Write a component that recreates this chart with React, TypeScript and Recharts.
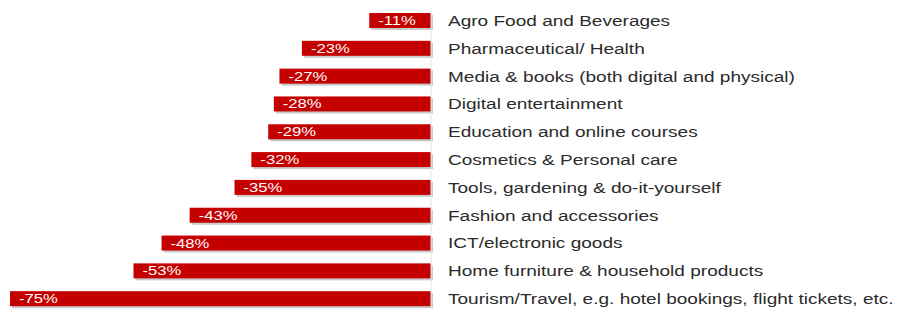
import React from 'react';
import { BarChart, Bar, XAxis, YAxis, LabelList } from 'recharts';

const categories = [
  'Agro Food and Beverages',
  'Pharmaceutical/ Health',
  'Media & books (both digital and physical)',
  'Digital entertainment',
  'Education and online courses',
  'Cosmetics & Personal care',
  'Tools, gardening & do-it-yourself',
  'Fashion and accessories',
  'ICT/electronic goods',
  'Home furniture & household products',
  'Tourism/Travel, e.g. hotel bookings, flight tickets, etc.',
];

const changes = [-11, -23, -27, -28, -29, -32, -35, -43, -48, -53, -75];

const data = categories.map((name, i) => ({ name, value: changes[i] }));

const BAR_RED = '#c50000';

// bar with a small grey drop shadow, like the original slide
const ShadowBar = (props: any) => {
  const { x, y, width, height } = props;
  const left = Math.min(x, x + width);
  const w = Math.abs(width);
  return (
    <g>
      <rect x={left + 2} y={y + 2} width={w} height={height} fill="#8a8a8a" opacity={0.45} />
      <rect x={left} y={y} width={w} height={height} fill={BAR_RED} />
    </g>
  );
};

const ValueLabel = (props: any) => {
  const { x, y, width, height, value } = props;
  const left = Math.min(x, x + width);
  const tx = left + 9;
  const ty = y + height / 2 + 4.5;
  return (
    <text
      transform={`translate(${tx},${ty}) scale(1.28,1)`}
      fill="#fff"
      fontSize={13}
      fontFamily="Liberation Sans, Arial, sans-serif"
    >
      {`${value}%`}
    </text>
  );
};

const CategoryTick = (props: any) => {
  const { x, y, payload } = props;
  return (
    <text
      transform={`translate(${x + 11},${y + 5}) scale(1.27,1)`}
      fill="#2b2b2b"
      fontSize={15}
      fontFamily="Liberation Sans, Arial, sans-serif"
    >
      {payload.value}
    </text>
  );
};

export default function App() {
  return (
    <div style={{ position: 'absolute', left: 0, top: 0, background: '#fff' }}>
      <BarChart
        width={899}
        height={316}
        data={data}
        layout="vertical"
        margin={{ top: 7, right: 0, bottom: 3, left: 10 }}
        barSize={15}
      >
        <XAxis type="number" domain={[-75, 0]} hide />
        <YAxis
          type="category"
          dataKey="name"
          orientation="right"
          width={468}
          axisLine={{ stroke: '#e4e4e4' }}
          tickLine={false}
          tickMargin={0}
          interval={0}
          tick={<CategoryTick />}
        />
        <Bar dataKey="value" shape={<ShadowBar />} isAnimationActive={false}>
          <LabelList dataKey="value" content={<ValueLabel />} />
        </Bar>
      </BarChart>
    </div>
  );
}
